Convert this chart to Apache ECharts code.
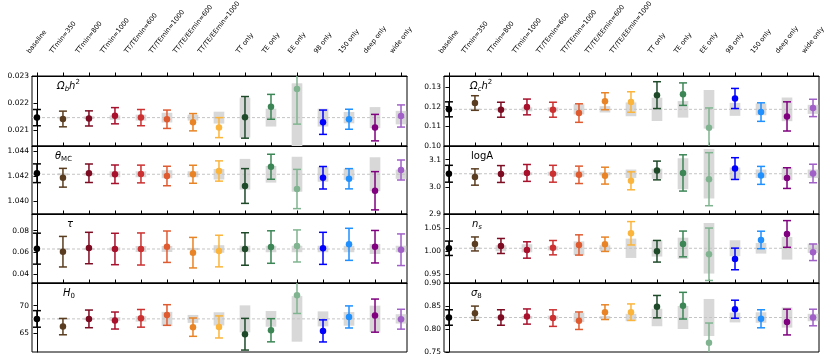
<!DOCTYPE html>
<html>
<head>
<meta charset="utf-8">
<script src="https://cdn.jsdelivr.net/npm/echarts@6/dist/echarts.min.js"></script>
<style>
html, body { margin: 0; padding: 0; background: #fff; }
#main { width: 831px; height: 362px; }
</style>
</head>
<body>
<div id="main"></div>
<script>
var categories = ['baseline', 'TTmin=350', 'TTmin=800', 'TTmin=1000', 'TT/TEmin=600', 'TT/TEmin=1000',
    'TT/TE/EEmin=600', 'TT/TE/EEmin=1000', 'TT only', 'TE only', 'EE only', '98 only', '150 only', 'deep only', 'wide only'];
var colors = ['#000000', '#5a3d20', '#7d0c22', '#a8102c', '#cc3030', '#e05a30', '#e98426', '#fbb43c',
    '#1f4a2a', '#3c8656', '#80b490', '#0000ff', '#2090ff', '#800080', '#a060c8'];

// Omega_b h^2
var ombh2Base = 0.02146;
var ombh2Mean = [0.02146, 0.02141, 0.02143, 0.02153, 0.02146, 0.02140, 0.02129, 0.02109, 0.02147, 0.02186, 0.02252, 0.02129, 0.02140, 0.02109, 0.02152];
var ombh2Err = [0.00030, 0.00029, 0.00028, 0.00030, 0.00030, 0.00034, 0.00032, 0.00037, 0.00077, 0.00046, 0.00130, 0.00045, 0.00037, 0.00049, 0.00041];
var ombh2Band = [0, 0.00003, 0.00005, 0.00008, 0.00011, 0.00018, 0.00011, 0.00022, 0.00074, 0.00033, 0.00127, 0.00033, 0.00021, 0.00039, 0.00025];

// theta_MC
var thetaBase = 1.04214;
var thetaMean = [1.04222, 1.04186, 1.04222, 1.04214, 1.04216, 1.04200, 1.04214, 1.04240, 1.04120, 1.04274, 1.04096, 1.04186, 1.04178, 1.04082, 1.04248];
var thetaErr = [0.00075, 0.00075, 0.00074, 0.00074, 0.00071, 0.00078, 0.00072, 0.00081, 0.00139, 0.00100, 0.00157, 0.00090, 0.00081, 0.00153, 0.00080];
var thetaBand = [0, 0.00008, 0.00010, 0.00024, 0.00024, 0.00032, 0.00024, 0.00042, 0.00123, 0.00067, 0.00140, 0.00060, 0.00045, 0.00136, 0.00037];

// tau
var tauBase = 0.0631;
var tauMean = [0.0634, 0.0606, 0.0640, 0.0631, 0.0631, 0.0652, 0.0597, 0.0612, 0.0631, 0.0649, 0.0659, 0.0637, 0.0674, 0.0652, 0.0624];
var tauErr = [0.0143, 0.0141, 0.0145, 0.0145, 0.0148, 0.0145, 0.0141, 0.0146, 0.0150, 0.0150, 0.0148, 0.0148, 0.0148, 0.0150, 0.0146];
var tauBand = [0, 0.0008, 0.0008, 0.0015, 0.0028, 0.0028, 0.0010, 0.0035, 0.0030, 0.0030, 0.0030, 0.0030, 0.0030, 0.0046, 0.0030];

// H0
var h0Base = 67.6;
var h0Mean = [67.59, 66.2, 67.6, 67.3, 67.7, 68.3, 66.1, 66.14, 64.82, 65.54, 71.88, 65.42, 67.95, 68.19, 67.54];
var h0Err = [1.5, 1.48, 1.6, 1.54, 1.6, 1.87, 1.66, 2.0, 2.87, 2.1, 3.3, 2.0, 2.0, 3.0, 1.8];
var h0Band = [0, 0.15, 0.2, 0.35, 0.5, 1.27, 0.72, 1.2, 2.45, 1.42, 4.13, 1.36, 1.24, 2.4, 0.85];

// Omega_c h^2
var omch2Base = 0.11859;
var omch2Mean = [0.1186, 0.1218, 0.1184, 0.1198, 0.1184, 0.1167, 0.1227, 0.1223, 0.1258, 0.1263, 0.1092, 0.1241, 0.1172, 0.1150, 0.1193];
var omch2Err = [0.0038, 0.0037, 0.0038, 0.0040, 0.0038, 0.0047, 0.0043, 0.0052, 0.0068, 0.0057, 0.0101, 0.0051, 0.0047, 0.0074, 0.0044];
var omch2Band = [0, 0.0004, 0.0006, 0.0010, 0.0010, 0.0026, 0.0016, 0.0035, 0.0059, 0.0042, 0.0098, 0.0033, 0.0030, 0.0060, 0.0023];

// logA
var logABase = 3.048;
var logAMean = [3.048, 3.036, 3.047, 3.051, 3.048, 3.044, 3.041, 3.022, 3.060, 3.051, 3.028, 3.067, 3.042, 3.032, 3.049];
var logAErr = [0.031, 0.030, 0.031, 0.031, 0.031, 0.032, 0.031, 0.033, 0.0345, 0.0667, 0.0975, 0.040, 0.033, 0.038, 0.034];
var logABand = [0, 0.003, 0.003, 0.005, 0.007, 0.011, 0.006, 0.0155, 0.0185, 0.057, 0.091, 0.023, 0.0155, 0.023, 0.0155];

// n_s
var nsBase = 1.0065;
var nsMean = [1.0065, 1.0159, 1.0115, 1.0028, 1.0078, 1.0137, 1.0152, 1.0391, 1.0000, 1.0159, 0.9935, 0.9833, 1.0246, 1.0376, 0.9978];
var nsErr = [0.0156, 0.0152, 0.0163, 0.0178, 0.0156, 0.0220, 0.0156, 0.0254, 0.0235, 0.0280, 0.0570, 0.0235, 0.0190, 0.0290, 0.0180];
var nsBand = [0, 0.002, 0.0065, 0.0087, 0.0045, 0.015, 0.0065, 0.021, 0.018, 0.023, 0.055, 0.0174, 0.0116, 0.0246, 0.010];

// sigma_8
var s8Base = 0.825;
var s8Mean = [0.825, 0.8344, 0.825, 0.8271, 0.8237, 0.818, 0.8366, 0.8366, 0.8486, 0.8507, 0.770, 0.843, 0.8222, 0.8151, 0.825];
var s8Err = [0.0168, 0.0154, 0.0168, 0.0165, 0.018, 0.019, 0.016, 0.0179, 0.0243, 0.029, 0.043, 0.0196, 0.0196, 0.028, 0.018];
var s8Band = [0, 0.002, 0.002, 0.003, 0.004, 0.010, 0.003, 0.008, 0.019, 0.025, 0.0403, 0.0107, 0.0114, 0.022, 0.008];

// y tick labels per panel
var ombh2Ticks = [0.021, 0.022, 0.023];
var thetaTicks = [1.040, 1.042, 1.044];
var tauTicks = [0.04, 0.06, 0.08];
var h0Ticks = [65, 70];
var omch2Ticks = [0.10, 0.11, 0.12, 0.13];
var logATicks = [2.9, 3.0, 3.1];
var nsTicks = [0.95, 1.00, 1.05];
var s8Ticks = [0.75, 0.80, 0.85, 0.90];

var panels = [
    {col: 0, row: 0, base: ombh2Base, mean: ombh2Mean, err: ombh2Err, band: ombh2Band, ticks: ombh2Ticks, dec: 3, min: 0.02041, max: 0.023, tx: 25, title: '{i|Ω}{sb|b}{i|h}{sp|2}'},
    {col: 0, row: 1, base: thetaBase, mean: thetaMean, err: thetaErr, band: thetaBand, ticks: thetaTicks, dec: 3, min: 1.03896, max: 1.0444, tx: 23, title: '{i|θ}{sr|MC}'},
    {col: 0, row: 2, base: tauBase, mean: tauMean, err: tauErr, band: tauBand, ticks: tauTicks, dec: 2, min: 0.0317, max: 0.0954, tx: 35, title: '{i|τ}'},
    {col: 0, row: 3, base: h0Base, mean: h0Mean, err: h0Err, band: h0Band, ticks: h0Ticks, dec: 0, min: 61.6, max: 74.1, tx: 31, title: '{i|H}{sr|0}'},
    {col: 1, row: 0, base: omch2Base, mean: omch2Mean, err: omch2Err, band: omch2Band, ticks: omch2Ticks, dec: 2, min: 0.10, max: 0.1355, tx: 26, title: '{i|Ω}{sb|c}{i|h}{sp|2}'},
    {col: 1, row: 1, base: logABase, mean: logAMean, err: logAErr, band: logABand, ticks: logATicks, dec: 1, min: 2.9, max: 3.15, tx: 27, title: '{r|logA}'},
    {col: 1, row: 2, base: nsBase, mean: nsMean, err: nsErr, band: nsBand, ticks: nsTicks, dec: 2, min: 0.931, max: 1.081, tx: 28, title: '{i|n}{sb|s}'},
    {col: 1, row: 3, base: s8Base, mean: s8Mean, err: s8Err, band: s8Band, ticks: s8Ticks, dec: 2, min: 0.75, max: 0.90, tx: 27, title: '{i|σ}{sr|8}'}
];

var colLeft = [32, 444];
var rowTop = [76, 146, 214, 283];
var rowHeight = [70, 68, 69, 69];
var X_MIN = -0.19, X_MAX = 14.23;
var catIdx = categories.map(function (c, i) { return i; });
var FONT = 'DejaVu Sans';
var LABEL_SIZE = 7.5, CAT_SIZE = 6.6, LABEL_ROT = 52, LABEL_GAP = 21;

var myChart = echarts.init(document.getElementById('main'));

var grids = [], xAxes = [], yAxes = [], series = [], titles = [];
var tstyle = {fontFamily: FONT, fontWeight: 'normal', color: '#000'};
function st(o) { var r = {}; for (var k in tstyle) r[k] = tstyle[k]; for (k in o) r[k] = o[k]; return r; }

panels.forEach(function (p, g) {
    grids.push({
        left: colLeft[p.col], width: 375, top: rowTop[p.row], height: rowHeight[p.row],
        show: true, borderColor: '#000', borderWidth: 1, backgroundColor: 'transparent'
    });
    xAxes.push({
        type: 'value', gridIndex: g, position: 'top', min: X_MIN, max: X_MAX,
        axisLine: {show: true, lineStyle: {color: '#000', width: 1}},
        axisTick: {show: true, customValues: catIdx, length: 3.5, lineStyle: {color: '#000'}},
        axisLabel: {show: false},
        splitLine: {show: false}
    });
    yAxes.push({
        type: 'value', gridIndex: g, min: p.min, max: p.max,
        axisLine: {show: true, lineStyle: {color: '#000', width: 1}},
        axisTick: {show: true, customValues: p.ticks, length: 3.5, lineStyle: {color: '#000'}},
        axisLabel: {
            customValues: p.ticks, fontSize: LABEL_SIZE, fontFamily: FONT, color: '#000', margin: 3,
            formatter: (function (d) { return function (v) { return v.toFixed(d); }; })(p.dec)
        },
        splitLine: {show: false}
    });
    titles.push({
        text: p.title, left: colLeft[p.col] + p.tx, top: rowTop[p.row] + 3, padding: 0,
        textStyle: {
            fontFamily: FONT, fontWeight: 'normal', color: '#000',
            rich: {
                i: st({fontSize: 10, fontStyle: 'italic', lineHeight: 14, verticalAlign: 'middle'}),
                r: st({fontSize: 10, lineHeight: 14, verticalAlign: 'middle'}),
                sb: st({fontSize: 7, fontStyle: 'italic', lineHeight: 8, verticalAlign: 'bottom'}),
                sr: st({fontSize: 7, lineHeight: 8, verticalAlign: 'bottom'}),
                sp: st({fontSize: 7, lineHeight: 8, verticalAlign: 'top'})
            }
        }
    });

    // grey expected-shift bands around the baseline
    series.push({
        type: 'custom', xAxisIndex: g, yAxisIndex: g, clip: true, silent: true, z: 1,
        data: p.band.map(function (b, i) { return [i, p.base, b]; }),
        renderItem: function (params, api) {
            var i = api.value(0), c = api.value(1), b = api.value(2);
            if (!b) return null;
            var p1 = api.coord([i - 0.205, c + b]);
            var p2 = api.coord([i + 0.205, c - b]);
            return {
                type: 'rect',
                shape: {x: p1[0], y: p1[1], width: p2[0] - p1[0], height: p2[1] - p1[1]},
                style: {fill: '#d8d8d8'}
            };
        }
    });

    // dashed baseline value
    series.push({
        type: 'line', xAxisIndex: g, yAxisIndex: g, silent: true, z: 2,
        symbol: 'none', data: [[X_MIN, p.base], [X_MAX, p.base]],
        lineStyle: {color: '#c4c4c4', type: [3, 2], width: 1}
    });

    // error bars
    series.push({
        type: 'custom', xAxisIndex: g, yAxisIndex: g, clip: true, silent: true, z: 3,
        data: p.mean.map(function (m, i) { return [i, m - p.err[i], m + p.err[i]]; }),
        renderItem: function (params, api) {
            var i = api.value(0);
            var lo = api.coord([i, api.value(1)]);
            var hi = api.coord([i, api.value(2)]);
            var s = {stroke: colors[params.dataIndex], lineWidth: 1.5};
            return {
                type: 'group',
                children: [
                    {type: 'line', shape: {x1: lo[0], y1: lo[1], x2: hi[0], y2: hi[1]}, style: s},
                    {type: 'line', shape: {x1: lo[0] - 4, y1: lo[1], x2: lo[0] + 4, y2: lo[1]}, style: s},
                    {type: 'line', shape: {x1: hi[0] - 4, y1: hi[1], x2: hi[0] + 4, y2: hi[1]}, style: s}
                ]
            };
        }
    });

    // central values
    series.push({
        type: 'scatter', xAxisIndex: g, yAxisIndex: g, clip: true, z: 4,
        symbol: 'circle', symbolSize: 6.5,
        data: p.mean.map(function (m, i) { return [i, m]; }),
        itemStyle: {opacity: 1, color: function (params) { return colors[params.dataIndex]; }}
    });
});

myChart.setOption({
    animation: false,
    backgroundColor: '#fff',
    title: titles,
    grid: grids,
    xAxis: xAxes,
    yAxis: yAxes,
    series: series
});

// rotated category labels above the top panels, centred on their ticks like matplotlib
var ctx = document.createElement('canvas').getContext('2d');
ctx.font = CAT_SIZE + 'px "' + FONT + '"';
var rad = LABEL_ROT * Math.PI / 180;
var hh = CAT_SIZE * 1.15;
var labels = [];
[0, 4].forEach(function (g) {
    categories.forEach(function (name, i) {
        var px = myChart.convertToPixel({xAxisIndex: g}, i);
        var w = ctx.measureText(name).width;
        var H = w * Math.sin(rad) + hh * Math.cos(rad);
        labels.push({
            type: 'text', x: px, y: rowTop[0] - LABEL_GAP - H / 2, rotation: rad, silent: true,
            style: {text: name, fontSize: CAT_SIZE, fontFamily: FONT, fill: '#000', align: 'center', verticalAlign: 'middle'}
        });
    });
});
myChart.setOption({graphic: labels});
</script>
</body>
</html>
